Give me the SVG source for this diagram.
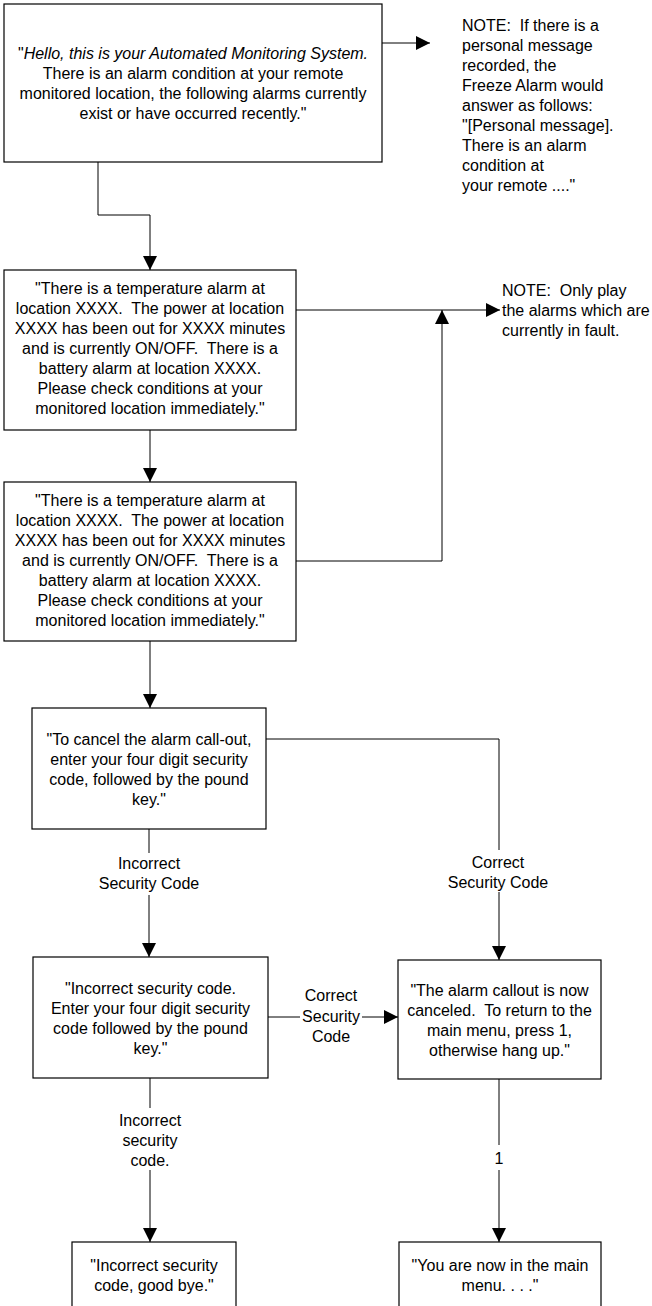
<svg xmlns="http://www.w3.org/2000/svg" width="652" height="1306" viewBox="0 0 652 1306">
<defs>
<style>
.box{fill:#fff;stroke:#000;stroke-width:1.2}
.t{font-family:"Liberation Sans",Arial,sans-serif;font-size:16px;fill:#000;white-space:pre}
.c{text-anchor:middle}
.ln{fill:none;stroke:#000;stroke-width:1}
</style>
<marker id="ah" markerUnits="userSpaceOnUse" markerWidth="16" markerHeight="16" refX="14" refY="7" orient="auto">
<path d="M0,0 L14,7 L0,14 z" fill="#000"/>
</marker>
</defs>
<rect width="652" height="1306" fill="#fff"/>
<g id="connectors">
<path class="ln" d="M98,162 V215 H150 V270" marker-end="url(#ah)"/>
<path class="ln" d="M382,43 H430" marker-end="url(#ah)"/>
<path class="ln" d="M296,310 H500" marker-end="url(#ah)"/>
<path class="ln" d="M150,430 V482" marker-end="url(#ah)"/>
<path class="ln" d="M296,561 H442 V310" marker-end="url(#ah)"/>
<path class="ln" d="M150,641 V708" marker-end="url(#ah)"/>
<path class="ln" d="M266,739 H499 V850"/>
<path class="ln" d="M499,892 V960" marker-end="url(#ah)"/>
<path class="ln" d="M149,829 V853"/>
<path class="ln" d="M149,895 V957" marker-end="url(#ah)"/>
<path class="ln" d="M268,1017 H300"/>
<path class="ln" d="M362,1017 H398" marker-end="url(#ah)"/>
<path class="ln" d="M150,1078 V1108"/>
<path class="ln" d="M150,1170 V1242" marker-end="url(#ah)"/>
<path class="ln" d="M499,1079 V1145"/>
<path class="ln" d="M499,1170 V1242" marker-end="url(#ah)"/>
<text class="t c" x="149" y="869">Incorrect</text>
<text class="t c" x="149" y="889">Security Code</text>
<text class="t c" x="498" y="868">Correct</text>
<text class="t c" x="498" y="888">Security Code</text>
<text class="t c" x="331" y="1001">Correct</text>
<text class="t c" x="331" y="1022">Security</text>
<text class="t c" x="331" y="1042">Code</text>
<text class="t c" x="150" y="1126">Incorrect</text>
<text class="t c" x="150" y="1146">security</text>
<text class="t c" x="150" y="1166">code.</text>
<text class="t c" x="499" y="1164">1</text>
</g>
<g id="greeting">
<rect class="box" x="4" y="4" width="378" height="158"/>
<text class="t c" x="193" y="59">"<tspan font-style="italic">Hello, this is your Automated Monitoring System.</tspan></text>
<text class="t c" x="193" y="79">There is an alarm condition at your remote</text>
<text class="t c" x="193" y="99">monitored location, the following alarms currently</text>
<text class="t c" x="193" y="119">exist or have occurred recently."</text>
</g>
<g id="note1">
<text class="t" x="462" y="31">NOTE:  If there is a</text>
<text class="t" x="462" y="51">personal message</text>
<text class="t" x="462" y="71">recorded, the</text>
<text class="t" x="462" y="91">Freeze Alarm would</text>
<text class="t" x="462" y="111">answer as follows:</text>
<text class="t" x="462" y="131">"[Personal message].</text>
<text class="t" x="462" y="151">There is an alarm</text>
<text class="t" x="462" y="171">condition at</text>
<text class="t" x="462" y="191">your remote ...."</text>
</g>
<g id="alarms1">
<rect class="box" x="4" y="270" width="292" height="160"/>
<text class="t c" x="150" y="294">"There is a temperature alarm at</text>
<text class="t c" x="150" y="314">location XXXX.  The power at location</text>
<text class="t c" x="150" y="334">XXXX has been out for XXXX minutes</text>
<text class="t c" x="150" y="354">and is currently ON/OFF.  There is a</text>
<text class="t c" x="150" y="374">battery alarm at location XXXX.</text>
<text class="t c" x="150" y="394">Please check conditions at your</text>
<text class="t c" x="150" y="414">monitored location immediately."</text>
</g>
<g id="note2">
<text class="t" x="502" y="296">NOTE:  Only play</text>
<text class="t" x="502" y="316">the alarms which are</text>
<text class="t" x="502" y="336">currently in fault.</text>
</g>
<g id="alarms2">
<rect class="box" x="4" y="482" width="292" height="159"/>
<text class="t c" x="150" y="506">"There is a temperature alarm at</text>
<text class="t c" x="150" y="526">location XXXX.  The power at location</text>
<text class="t c" x="150" y="546">XXXX has been out for XXXX minutes</text>
<text class="t c" x="150" y="566">and is currently ON/OFF.  There is a</text>
<text class="t c" x="150" y="586">battery alarm at location XXXX.</text>
<text class="t c" x="150" y="606">Please check conditions at your</text>
<text class="t c" x="150" y="626">monitored location immediately."</text>
</g>
<g id="cancel">
<rect class="box" x="32" y="708" width="234" height="121"/>
<text class="t c" x="149" y="745">"To cancel the alarm call-out,</text>
<text class="t c" x="149" y="765">enter your four digit security</text>
<text class="t c" x="149" y="785">code, followed by the pound</text>
<text class="t c" x="149" y="805">key."</text>
</g>
<g id="incorrect1">
<rect class="box" x="33" y="957" width="235" height="121"/>
<text class="t c" x="150.5" y="994">"Incorrect security code.</text>
<text class="t c" x="150.5" y="1014">Enter your four digit security</text>
<text class="t c" x="150.5" y="1034">code followed by the pound</text>
<text class="t c" x="150.5" y="1054">key."</text>
</g>
<g id="canceled">
<rect class="box" x="398" y="960" width="203" height="119"/>
<text class="t c" x="499.5" y="996">"The alarm callout is now</text>
<text class="t c" x="499.5" y="1016">canceled.  To return to the</text>
<text class="t c" x="499.5" y="1036">main menu, press 1,</text>
<text class="t c" x="499.5" y="1056">otherwise hang up."</text>
</g>
<g id="goodbye">
<rect class="box" x="72" y="1242" width="164" height="90"/>
<text class="t c" x="154" y="1271">"Incorrect security</text>
<text class="t c" x="154" y="1291">code, good bye."</text>
</g>
<g id="mainmenu">
<rect class="box" x="399" y="1242" width="202" height="90"/>
<text class="t c" x="500" y="1271">"You are now in the main</text>
<text class="t c" x="500" y="1291">menu. . . ."</text>
</g>
</svg>
